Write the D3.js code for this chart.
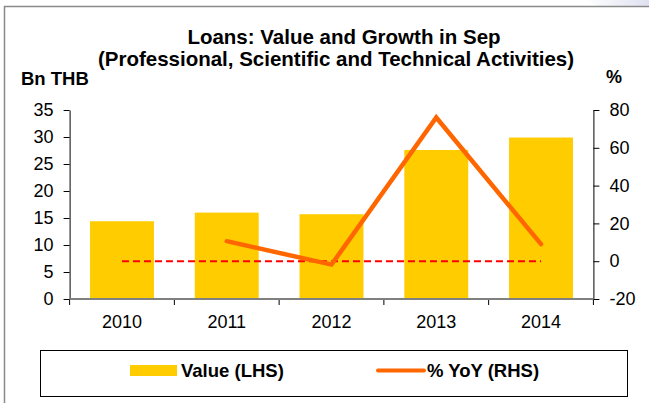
<!DOCTYPE html>
<html>
<head>
<meta charset="utf-8">
<script src="https://cdn.jsdelivr.net/npm/d3@7"></script>
<style>
  html, body { margin: 0; padding: 0; background: #fff; }
  svg { display: block; font-family: "Liberation Sans", Arial, sans-serif; }
</style>
</head>
<body>
<svg id="chart" width="649" height="403"></svg>
<script>
// Loan data by year
const years = ["2010", "2011", "2012", "2013", "2014"];
const values = [14.4, 16.0, 15.7, 27.6, 29.9];        // Bn THB (left axis)
const yoy = [null, 10.6, -1.8, 76.0, 9.0];             // % YoY (right axis)
const leftTicks = [0, 5, 10, 15, 20, 25, 30, 35];
const rightTicks = [-20, 0, 20, 40, 60, 80];

const svg = d3.select("#chart");
const W = 649, H = 403;
const plot = { left: 69.6, right: 593.4, top: 110, bottom: 299 };

// Background decoration in the top-right corner
const grad = svg.append("defs").append("linearGradient")
  .attr("id", "swoosh").attr("x1", "0").attr("x2", "1").attr("y1", "0").attr("y2", "0");
grad.append("stop").attr("offset", "0").attr("stop-color", "#ffffff");
grad.append("stop").attr("offset", "1").attr("stop-color", "#dfe1f0");
svg.append("path")
  .attr("d", "M585,0 L649,0 L649,7 L600,7 Q592,3 585,0 Z")
  .attr("fill", "url(#swoosh)");

// Outer frame lines (top and left)
svg.append("line").attr("x1", 4).attr("x2", 649).attr("y1", 6.5).attr("y2", 6.5)
  .attr("stroke", "#8a8a8a").attr("stroke-width", 1.5);
svg.append("line").attr("x1", 4.5).attr("x2", 4.5).attr("y1", 6).attr("y2", H)
  .attr("stroke", "#8a8a8a").attr("stroke-width", 1.5);

// Scales
const x = d3.scaleBand().domain(years).range([plot.left, plot.right])
  .paddingInner(0.39).paddingOuter(0.195);
const yL = d3.scaleLinear().domain([0, 35]).range([plot.bottom, plot.top]);
const yR = d3.scaleLinear().domain([-20, 80]).range([plot.bottom, plot.top]);

// Title
const title = svg.append("text").attr("text-anchor", "middle")
  .attr("font-weight", "bold").attr("font-size", 20.5).attr("fill", "#000");
title.append("tspan").attr("x", 344).attr("y", 44).text("Loans: Value and Growth in Sep");
title.append("tspan").attr("x", 336).attr("y", 66).text("(Professional, Scientific and Technical Activities)");

// Axis unit labels
svg.append("text").attr("x", 21).attr("y", 85).attr("font-weight", "bold")
  .attr("font-size", 18.5).text("Bn THB");
svg.append("text").attr("x", 606).attr("y", 83).attr("font-weight", "bold")
  .attr("font-size", 18).text("%");

// Bars
svg.append("g").selectAll("rect").data(years).join("rect")
  .attr("x", d => x(d))
  .attr("width", x.bandwidth())
  .attr("y", (d, i) => yL(values[i]))
  .attr("height", (d, i) => yL(0) - yL(values[i]))
  .attr("fill", "#ffcc00");

// Axis labels use a plain hyphen for negatives
const fmt = d => String(d);

// Left axis
const gL = svg.append("g").attr("transform", `translate(${plot.left},0)`)
  .call(d3.axisLeft(yL).tickValues(leftTicks).tickFormat(fmt)
    .tickSize(6).tickSizeOuter(0).tickPadding(10));
// Right axis
const gR = svg.append("g").attr("transform", `translate(${plot.right},0)`)
  .call(d3.axisRight(yR).tickValues(rightTicks).tickFormat(fmt)
    .tickSize(6).tickSizeOuter(0).tickPadding(10));
[gL, gR].forEach(g => {
  g.select(".domain").attr("stroke", "#000").attr("stroke-width", 1);
  g.selectAll(".tick line").attr("stroke", "#000");
  g.selectAll(".tick text").attr("font-size", 18).attr("fill", "#000")
    .attr("font-family", "'Liberation Sans', Arial, sans-serif");
});

// Category axis: labels centred under bars, ticks on band boundaries
const gX = svg.append("g").attr("transform", `translate(0,${plot.bottom})`)
  .call(d3.axisBottom(x).tickSize(0).tickPadding(16));
gX.select(".domain").remove();
gX.selectAll(".tick text").attr("font-size", 18).attr("fill", "#000")
  .attr("font-family", "'Liberation Sans', Arial, sans-serif");
const half = (x.step() - x.bandwidth()) / 2;
const bounds = years.map(d => x(d) - half).concat([x(years[years.length - 1]) + x.bandwidth() + half]);
svg.append("g").selectAll("line").data(bounds).join("line")
  .attr("x1", d => d).attr("x2", d => d)
  .attr("y1", plot.bottom).attr("y2", plot.bottom + 6)
  .attr("stroke", "#000");
svg.append("line")
  .attr("x1", plot.left).attr("x2", plot.right)
  .attr("y1", plot.bottom).attr("y2", plot.bottom)
  .attr("stroke", "#808080").attr("stroke-width", 2);

// Zero reference on the growth axis
const cx = d => x(d) + x.bandwidth() / 2;
svg.append("line")
  .attr("x1", cx(years[0])).attr("x2", cx(years[years.length - 1]))
  .attr("y1", yR(0)).attr("y2", yR(0))
  .attr("stroke", "#ff0000").attr("stroke-width", 2)
  .attr("stroke-dasharray", "7,4");

// Growth line
const line = d3.line()
  .defined(d => d.v !== null)
  .x(d => cx(d.year))
  .y(d => yR(d.v));
svg.append("path")
  .datum(years.map((year, i) => ({ year, v: yoy[i] })))
  .attr("d", line)
  .attr("fill", "none")
  .attr("stroke", "#ff6600")
  .attr("stroke-width", 4.5)
  .attr("stroke-linejoin", "miter")
  .attr("stroke-linecap", "round");

// Legend
const lg = svg.append("g");
lg.append("rect").attr("x", 40.5).attr("y", 350.5).attr("width", 587).attr("height", 46)
  .attr("fill", "#fff").attr("stroke", "#000").attr("stroke-width", 1);
lg.append("rect").attr("x", 130).attr("y", 365).attr("width", 47).attr("height", 11)
  .attr("fill", "#ffcc00");
lg.append("text").attr("x", 181).attr("y", 377).attr("font-weight", "bold")
  .attr("font-size", 18.5).text("Value (LHS)");
lg.append("line").attr("x1", 378).attr("x2", 424).attr("y1", 370.5).attr("y2", 370.5)
  .attr("stroke", "#ff6600").attr("stroke-width", 4).attr("stroke-linecap", "round");
lg.append("text").attr("x", 427).attr("y", 377).attr("font-weight", "bold")
  .attr("font-size", 18.5).text("% YoY (RHS)");
</script>
</body>
</html>
